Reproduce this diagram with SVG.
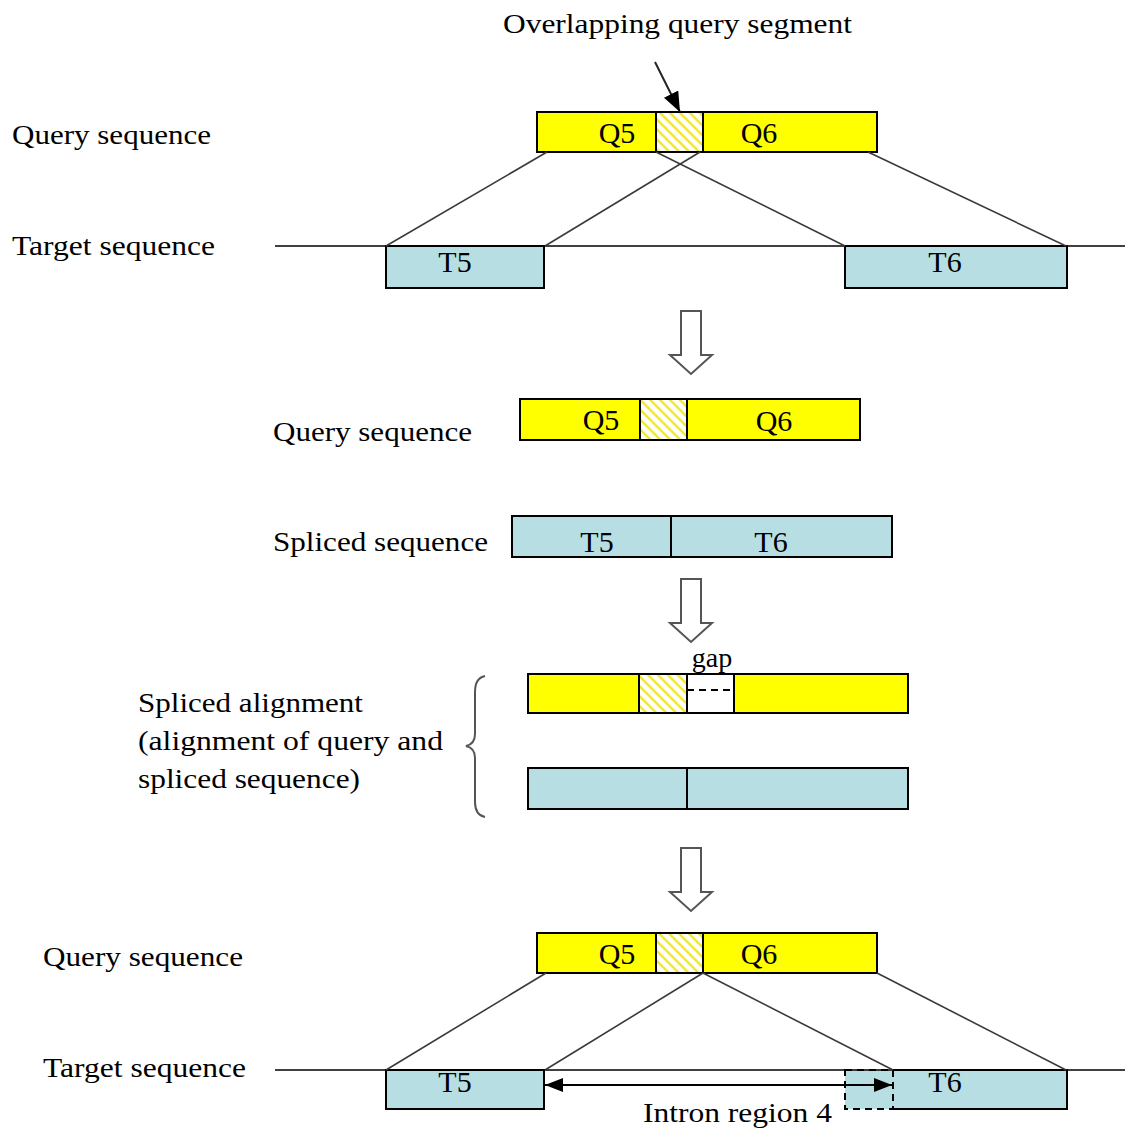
<svg xmlns="http://www.w3.org/2000/svg" width="1125" height="1130" viewBox="0 0 1125 1130">
  <style>
    text { font-family: "Liberation Serif", "Times New Roman", serif; font-size: 28px; fill: #000; }
    .mid { text-anchor: middle; font-size: 30px; }
    .q { fill: #ffff00; stroke: #000; stroke-width: 2; }
    .t { fill: #b7dfe3; stroke: #000; stroke-width: 2; }
    .h { fill: url(#hatch); stroke: #000; stroke-width: 2; }
    .seq { stroke: #000; stroke-width: 1.6; fill: none; }
    .link { stroke: #3a3a3a; stroke-width: 1.6; fill: none; }
    .hollow { fill: #fff; stroke: #555; stroke-width: 2; }
    .dash { fill: none; stroke: #000; stroke-width: 2; stroke-dasharray: 7 5; }
  </style>
  <defs>
    <pattern id="hatch" patternUnits="userSpaceOnUse" width="7" height="7" patternTransform="rotate(-45)">
      <rect width="7" height="7" fill="#fff"/>
      <line x1="2" y1="0" x2="2" y2="7" stroke="#f2e62a" stroke-width="2.4"/>
    </pattern>
    <marker id="headBig" viewBox="0 0 18 14" refX="18" refY="7" markerWidth="18" markerHeight="14" markerUnits="userSpaceOnUse" orient="auto-start-reverse">
      <path d="M0,0 L18,7 L0,14 z" fill="#000"/>
    </marker>
    <marker id="headPointer" viewBox="0 0 20 16" refX="20" refY="8" markerWidth="20" markerHeight="16" markerUnits="userSpaceOnUse" orient="auto">
      <path d="M0,0 L20,8 L0,16 z" fill="#000"/>
    </marker>
  </defs>

  <!-- row labels -->
  <g id="labels">
    <text x="503" y="33" textLength="349" lengthAdjust="spacingAndGlyphs">Overlapping query segment</text>
    <text x="12" y="144" textLength="199" lengthAdjust="spacingAndGlyphs">Query sequence</text>
    <text x="12" y="255" textLength="203" lengthAdjust="spacingAndGlyphs">Target sequence</text>
    <text x="273" y="441" textLength="199" lengthAdjust="spacingAndGlyphs">Query sequence</text>
    <text x="273" y="551" textLength="215" lengthAdjust="spacingAndGlyphs">Spliced sequence</text>
    <text x="138" y="712" textLength="225" lengthAdjust="spacingAndGlyphs">Spliced alignment</text>
    <text x="138" y="750" textLength="305" lengthAdjust="spacingAndGlyphs">(alignment of query and</text>
    <text x="138" y="788" textLength="222" lengthAdjust="spacingAndGlyphs">spliced sequence)</text>
    <text x="43" y="966" textLength="200" lengthAdjust="spacingAndGlyphs">Query sequence</text>
    <text x="43" y="1077" textLength="203" lengthAdjust="spacingAndGlyphs">Target sequence</text>
  </g>

  <!-- top query -->
  <g id="query-top">
    <rect class="q" x="537" y="112" width="340" height="40"/>
    <rect class="h" x="656" y="112" width="47" height="40"/>
    <text class="mid" x="617" y="143">Q5</text>
    <text class="mid" x="759" y="143">Q6</text>
  </g>

  <!-- top target -->
  <g id="target-top">
    <rect class="t" x="386" y="246" width="158" height="42"/>
    <rect class="t" x="845" y="246" width="222" height="42"/>
    <text class="mid" x="455" y="272">T5</text>
    <text class="mid" x="945" y="272">T6</text>
  </g>

  <!-- joined query -->
  <g id="query-mid">
    <rect class="q" x="520" y="399" width="340" height="41"/>
    <rect class="h" x="640" y="399" width="47" height="41"/>
    <text class="mid" x="601" y="430">Q5</text>
    <text class="mid" x="774" y="431">Q6</text>
  </g>

  <!-- spliced sequence -->
  <g id="spliced">
    <rect class="t" x="512" y="516" width="380" height="41"/>
    <line x1="671" y1="516" x2="671" y2="557" stroke="#000" stroke-width="2"/>
    <text class="mid" x="597" y="552">T5</text>
    <text class="mid" x="771" y="552">T6</text>
  </g>

  <!-- spliced alignment -->
  <g id="alignment">
    <rect class="q" x="528" y="674" width="380" height="39"/>
    <rect class="h" x="639" y="674" width="48" height="39"/>
    <rect x="687" y="674" width="47" height="39" fill="#fff" stroke="#000" stroke-width="2"/>
    <line x1="687" y1="690" x2="734" y2="690" stroke="#000" stroke-width="2" stroke-dasharray="7 5"/>
    <text x="712" y="667" font-size="27" text-anchor="middle">gap</text>
    <rect class="t" x="528" y="768" width="380" height="41"/>
    <line x1="687" y1="768" x2="687" y2="809" stroke="#000" stroke-width="2"/>
  </g>

  <!-- bottom query -->
  <g id="query-bottom">
    <rect class="q" x="537" y="933" width="340" height="40"/>
    <rect class="h" x="656" y="933" width="47" height="40"/>
    <text class="mid" x="617" y="964">Q5</text>
    <text class="mid" x="759" y="964">Q6</text>
  </g>

  <!-- bottom target with intron region -->
  <g id="target-bottom">
    <rect class="t" x="386" y="1070" width="158" height="39"/>
    <rect x="845" y="1070" width="222" height="39" fill="#b7dfe3"/>
    <path d="M893,1070 H1067 V1109 H893" fill="none" stroke="#000" stroke-width="2"/>
    <rect class="dash" x="845" y="1070" width="48" height="39"/>
    <text class="mid" x="455" y="1092">T5</text>
    <text class="mid" x="945" y="1092">T6</text>
    <text x="643" y="1122" textLength="189" lengthAdjust="spacingAndGlyphs">Intron region 4</text>
  </g>

  <!-- connectors: sequence lines, mapping lines and arrows -->
  <g id="connectors">
    <line class="seq" x1="275" y1="246" x2="386" y2="246"/>
    <line class="seq" x1="544" y1="246" x2="845" y2="246"/>
    <line class="seq" x1="1067" y1="246" x2="1125" y2="246"/>
    <line class="link" x1="547" y1="152" x2="386" y2="246"/>
    <line class="link" x1="700" y1="152" x2="545" y2="246"/>
    <line class="link" x1="656" y1="152" x2="845" y2="246"/>
    <line class="link" x1="868" y1="152" x2="1066" y2="246"/>
    <line x1="655" y1="62" x2="680" y2="112" stroke="#222" stroke-width="2" marker-end="url(#headPointer)"/>

    <line class="seq" x1="275" y1="1070" x2="386" y2="1070"/>
    <line class="seq" x1="544" y1="1070" x2="893" y2="1070"/>
    <line class="seq" x1="1067" y1="1070" x2="1125" y2="1070"/>
    <line class="link" x1="546" y1="973" x2="386" y2="1070"/>
    <line class="link" x1="703" y1="973" x2="545" y2="1070"/>
    <line class="link" x1="703" y1="973" x2="893" y2="1070"/>
    <line class="link" x1="877" y1="973" x2="1066" y2="1070"/>
    <line x1="545" y1="1085" x2="892" y2="1085" stroke="#000" stroke-width="2" marker-start="url(#headBig)" marker-end="url(#headBig)"/>

    <path class="hollow" d="M681,311 H701 V355 H712 L691,374 L670,355 H681 Z"/>
    <path class="hollow" d="M681,579 H701 V623 H712 L691,642 L670,623 H681 Z"/>
    <path class="hollow" d="M681,848 H701 V892 H712 L691,911 L670,892 H681 Z"/>

    <path d="M485,676 Q475,678 475,692 L475,734 Q475,744 466,746 Q475,748 475,758 L475,802 Q475,815 485,817" fill="none" stroke="#555" stroke-width="2"/>
  </g>
</svg>
